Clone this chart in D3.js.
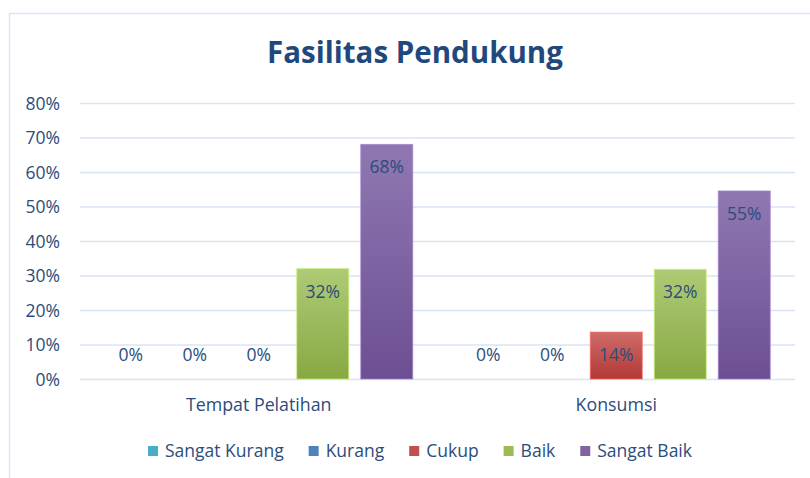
<!DOCTYPE html>
<html><head><meta charset="utf-8">
<script src="https://cdn.jsdelivr.net/npm/d3@7"></script>
<style>
html,body{margin:0;padding:0;background:#fff;}
svg{display:block;}
text{font-family:"Open Sans",sans-serif;}
</style></head>
<body>
<svg id="chart" width="810" height="478"></svg>
<script>
const title = "Fasilitas Pendukung";
const categories = ["Tempat Pelatihan", "Konsumsi"];
const series = ["Sangat Kurang", "Kurang", "Cukup", "Baik", "Sangat Baik"];
const tempatPelatihan = [0, 0, 0, 0.32, 0.68];
const konsumsi = [0, 0, 0.136, 0.318, 0.545];
const yTicks = [0, 0.1, 0.2, 0.3, 0.4, 0.5, 0.6, 0.7, 0.8];
const valueLabels = [["0%", "0%", "0%", "32%", "68%"], ["0%", "0%", "14%", "32%", "55%"]];

const colors = ["#4BACC6", "#4F81BD", "#C0504D", "#9BBB59", "#8064A2"];
const gradTop = ["#6CC0D6", "#6F98CF", "#D06C69", "#AECB75", "#8F78B2"];
const gradBot = ["#3A9AB3", "#3E6DA8", "#B13835", "#88A843", "#6C4F92"];
const textColor = "#2C4C7C";

const svg = d3.select("#chart");
svg.append("rect").attr("width", 810).attr("height", 478).attr("fill", "#fff");
svg.append("rect").attr("x", 9.5).attr("y", 13.5).attr("width", 820).attr("height", 480)
  .attr("fill", "none").attr("stroke", "#DCE7F5").attr("stroke-width", 1.5);

const defs = svg.append("defs");
series.forEach((s, i) => {
  const g = defs.append("linearGradient").attr("id", "g" + i)
    .attr("x1", 0).attr("y1", 0).attr("x2", 0).attr("y2", 1);
  g.append("stop").attr("offset", "0%").attr("stop-color", gradTop[i]);
  g.append("stop").attr("offset", "100%").attr("stop-color", gradBot[i]);
});

const pLeft = 80, pRight = 795, pTop = 103, pBottom = 379;
const y = d3.scaleLinear().domain([0, 0.8]).range([pBottom, pTop]);
const x0 = d3.scaleBand().domain(categories).range([pLeft, pRight]).padding(0);
const x1 = d3.scaleBand().domain(series)
  .range([24.75, x0.bandwidth() - 24.75]).paddingInner(0.1875).paddingOuter(0);

// title
svg.append("text").attr("x", 415).attr("y", 63).attr("text-anchor", "middle")
  .attr("font-size", 29.5).attr("font-weight", 700).attr("fill", "#1F497D").text(title);

// gridlines + y labels
const yAxis = d3.axisLeft(y).tickValues(yTicks).tickFormat(d3.format(".0%")).tickSize(-(pRight - pLeft)).tickPadding(20);
const ga = svg.append("g").attr("transform", `translate(${pLeft},0)`).call(yAxis);
ga.select(".domain").remove();
ga.selectAll(".tick line").attr("stroke", "#D9E5F4").attr("stroke-width", 1.5);
ga.selectAll(".tick text").attr("font-size", 17.5).attr("fill", textColor)
  .attr("font-family", "Open Sans, sans-serif").attr("dy", "0.36em");

const data = [tempatPelatihan, konsumsi];
categories.forEach((c, ci) => {
  const g = svg.append("g").attr("transform", `translate(${x0(c)},0)`);
  series.forEach((s, si) => {
    const v = data[ci][si];
    if (v > 0) {
      g.append("rect").attr("x", x1(s)).attr("y", y(v)).attr("width", x1.bandwidth())
        .attr("height", y(0) - y(v)).attr("fill", `url(#g${si})`)
        .attr("stroke", d3.color(colors[si]).brighter(0.7)).attr("stroke-opacity", 0.7).attr("stroke-width", 1);
    }
    g.append("text").attr("x", x1(s) + x1.bandwidth() / 2)
      .attr("y", v > 0 ? y(v) + 29 : y(0) - 18.5)
      .attr("text-anchor", "middle").attr("font-size", 17.5).attr("fill", textColor)
      .text(valueLabels[ci][si]);
  });
  svg.append("text").attr("x", x0(c) + x0.bandwidth() / 2).attr("y", 410.5)
    .attr("text-anchor", "middle").attr("font-size", 17.8).attr("fill", textColor).text(c);
});

// legend
const lg = svg.append("g");
let lx = 0;
series.forEach((s, i) => {
  const it = lg.append("g").attr("transform", `translate(${lx},0)`);
  it.append("rect").attr("x", 0).attr("y", -11).attr("width", 10).attr("height", 10).attr("fill", colors[i]);
  const t = it.append("text").attr("x", 17).attr("y", 0).attr("font-size", 17.5).attr("fill", textColor).text(s);
  lx += 17 + t.node().getComputedTextLength() + 25;
});
const lw = lx - 25;
lg.attr("transform", `translate(${420 - lw / 2},457)`);
</script>
</body></html>
